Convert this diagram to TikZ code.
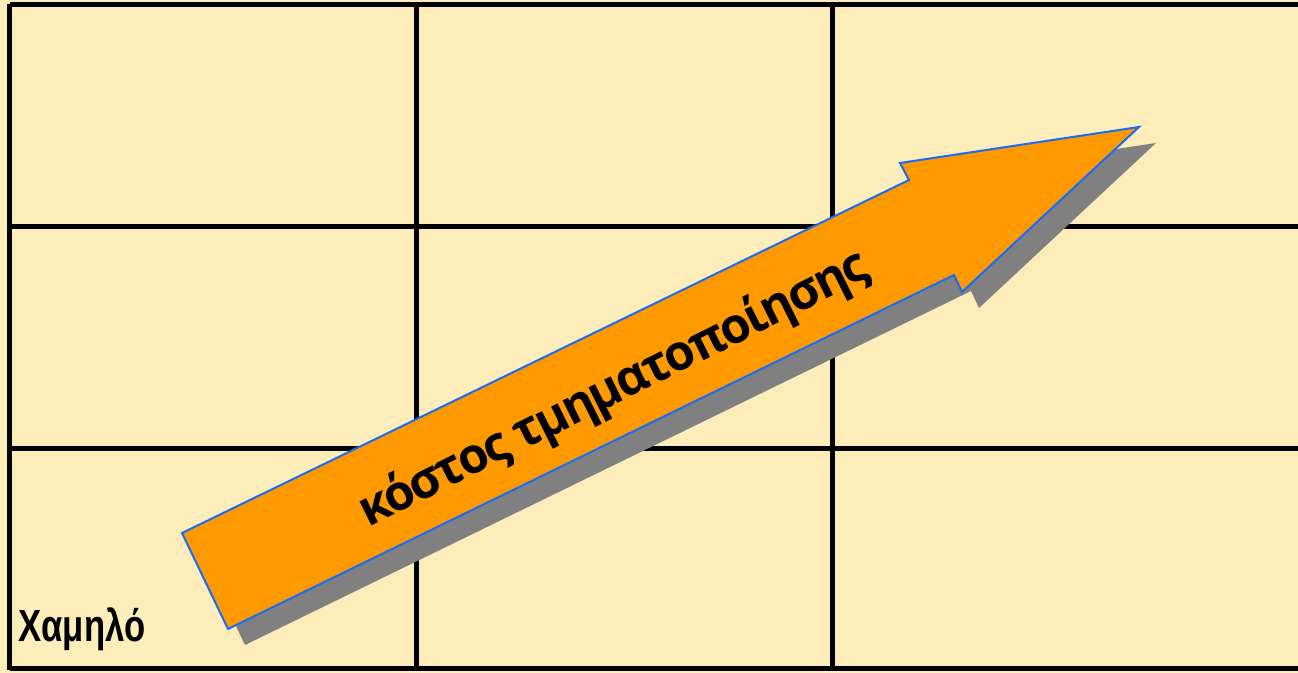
\documentclass[tikz,border=0pt]{standalone}
\usepackage{fontspec}
\setmainfont{Open Sans}
\newfontfamily\arrowfont[LetterSpace=-4.5]{Open Sans}
\newfontfamily\narrowfont[FakeStretch=0.77]{Liberation Sans}
\definecolor{paper}{HTML}{FDEDBA}
\definecolor{arrowfill}{HTML}{FF9900}
\definecolor{arrowedge}{HTML}{1A6CF5}
\definecolor{shadowgrey}{HTML}{808080}
\tikzset{
  gridline/.style={line width=2.5pt, black},
  arrowbody/.style={fill=arrowfill, draw=arrowedge, line width=1pt, line join=miter},
  arrowshadow/.style={fill=shadowgrey},
  arrowtext/.style={font=\arrowfont\bfseries\fontsize{24.5}{28}\selectfont, text=black, inner sep=0pt},
  cornerlabel/.style={font=\narrowfont\bfseries\fontsize{22.5}{26}\selectfont, text=black, inner sep=0pt}
}
\begin{document}
\begin{tikzpicture}[x=0.5pt, y=-0.5pt]
\useasboundingbox (0,0) rectangle (1298,673);
\fill[paper] (0,0) rectangle (1298,673);
% grid
\draw[gridline] (9.5,5) -- (1298,5);
\draw[gridline] (9.5,227) -- (1298,227);
\draw[gridline] (9.5,449) -- (1298,449);
\draw[gridline] (9.5,669) -- (1298,669);
\draw[gridline] (9.5,3.8) -- (9.5,670.2);
\draw[gridline] (416,5) -- (416,669);
\draw[gridline] (832,5) -- (832,669);
% rising arrow: shadow first, then the arrow itself
\fill[arrowshadow, shift={(17,16)}]
  (182,533) -- (909,180) -- (900,163) -- (1139,127) -- (962,292) -- (954,275) -- (228,629) -- cycle;
\filldraw[arrowbody]
  (182,533) -- (909,180) -- (900,163) -- (1139,127) -- (962,292) -- (954,275) -- (228,629) -- cycle;
\node[arrowtext, rotate=26.5] (cost) at (614,390) {κόστος τμηματοποίησης};
\node[cornerlabel, anchor=base west] (low) at (18,642) {Χαμηλό};
\end{tikzpicture}
\end{document}
